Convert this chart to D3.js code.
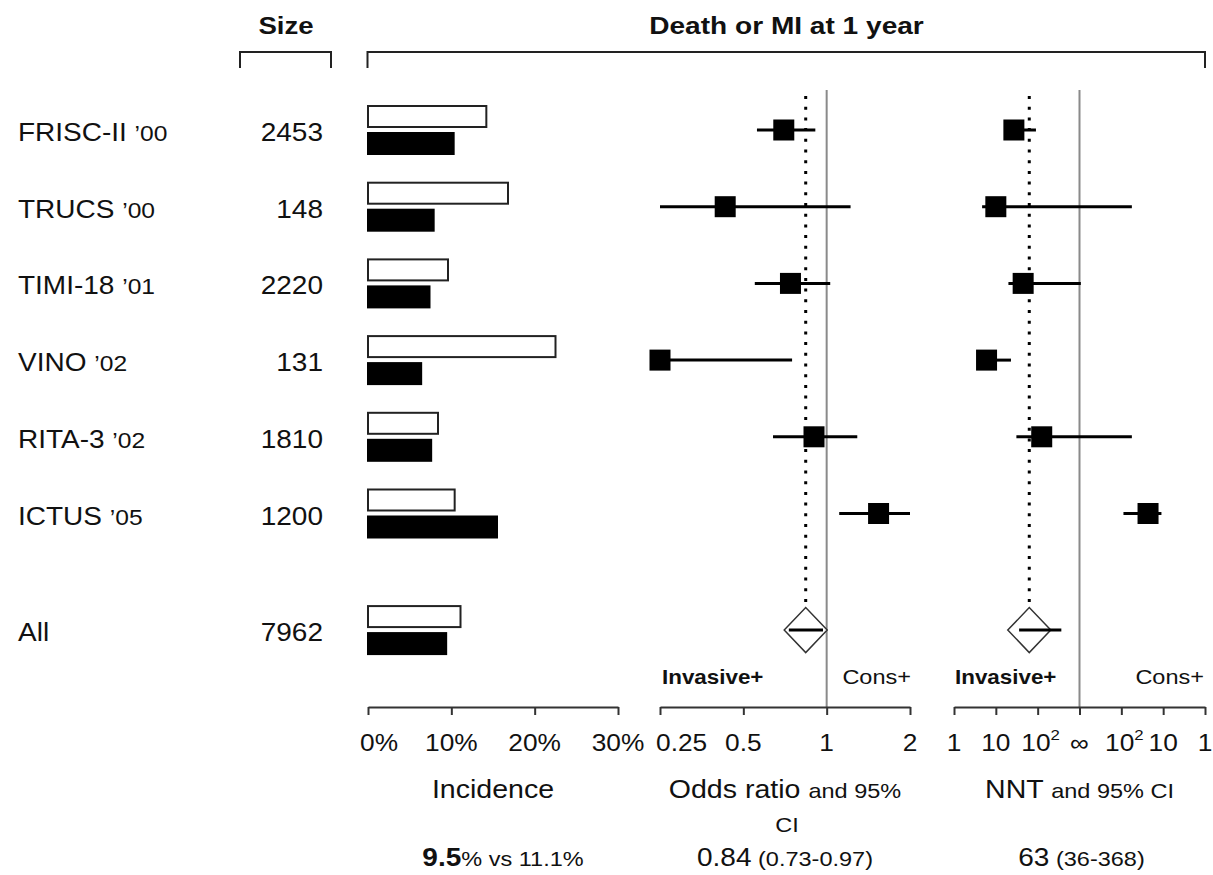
<!DOCTYPE html>
<html>
<head>
<meta charset="utf-8">
<script src="https://cdn.jsdelivr.net/npm/d3@7/dist/d3.min.js"></script>
<style>
  html, body { margin: 0; padding: 0; background: #fff; }
  svg { display: block; }
  text { fill: #111; }
</style>
</head>
<body>
<script>
// ---------------- data ----------------
const studies   = ["FRISC-II", "TRUCS", "TIMI-18", "VINO", "RITA-3", "ICTUS"];
const years     = ["\u201900", "\u201900", "\u201901", "\u201902", "\u201902", "\u201905"];
const sizes     = [2453, 148, 2220, 131, 1810, 1200];
// incidence of death or MI at 1 year (%): conservative (open bar) and invasive (filled bar)
const incCons   = [14.2, 16.8, 9.6, 22.5, 8.4, 10.4];
const incInv    = [10.4, 8.0, 7.5, 6.5, 7.7, 15.6];
// odds ratios and 95% CI
const orEst     = [0.70, 0.43, 0.74, 0.25, 0.90, 1.54];
const orLo      = [0.56, 0.24, 0.55, 0.20, 0.64, 1.11];
const orHi      = [0.91, 1.22, 1.03, 0.75, 1.29, 2.04];
// NNT and 95% CI (positive = number needed to treat, negative = number needed to harm)
const nntEst    = [27, 10, 45, 6, 125, -23];
const nntLo     = [17, 4.7, 20, 4, 31, -89];
const nntHi     = [91, -56, -930, 23, -56, -11];
// pooled
const allLabel  = "All";
const allSize   = 7962;
const allInc    = [11.1, 9.5];          // conservative, invasive
const allOR     = [0.84, 0.73, 0.97];   // estimate, lo, hi
const allNNT    = [63, 36, 368];
// axes
const incTicks  = [0, 10, 20, 30];
const orTicks   = [0.25, 0.5, 1, 2];
const nntTickU  = [-3, -2, -1, 0, 1, 2, 3];
const nntTickLabels = [["1"], ["10"], ["10", "2"], ["\u221e"], ["10", "2"], ["10"], ["1"]];

// ---------------- layout ----------------
const W = 1213, H = 875;
const SX = 1.12;  // horizontal text stretch of the original figure
const svg = d3.select("body").append("svg").attr("width", W).attr("height", H)
  .style("font-family", "'Liberation Sans', Arial, Helvetica, sans-serif");

const y = d3.scaleLinear().domain([0, 5]).range([130, 513.5]);
const ySum = y(6.52);
const axisY = 707;

const xInc = d3.scaleLinear().domain([0, 30]).range([368, 618]);
const xOR  = d3.scaleLog().base(2).domain([0.25, 2]).range([660, 910]).clamp(true);
const xU   = d3.scaleLinear().domain([-3, 3]).range([954, 1205]).clamp(true);
const nntU = n => (n === Infinity ? 0 : (n > 0 ? -(3 - Math.log10(n)) : (3 - Math.log10(-n))));
const xNNT = n => xU(nntU(n));

function T(x, yy, opts = {}) {
  const { size = 25, weight = "normal", anchor = "start", sx = SX } = opts;
  return svg.append("text")
    .attr("transform", `translate(${x},${yy}) scale(${sx},1)`)
    .attr("font-size", size).attr("font-weight", weight)
    .attr("text-anchor", anchor);
}

// ---------------- headers ----------------
T(286, 34, { size: 24, weight: "bold", anchor: "middle", sx: 1.15 }).text("Size");
T((xInc.range()[0] + xU.range()[1]) / 2, 34, { size: 24, weight: "bold", anchor: "middle", sx: 1.17 })
  .text("Death or MI at 1 year");

const bracket = (x0, x1) => svg.append("path")
  .attr("d", `M${x0},68V52H${x1}V68`).attr("fill", "none")
  .attr("stroke", "#222").attr("stroke-width", 2);
bracket(240, 331);
bracket(xInc.range()[0] - 0.5, xU.range()[1]);

// ---------------- row labels & sizes ----------------
studies.forEach((s, i) => {
  const t = T(18, y(i) + 11, { size: 25 });
  t.append("tspan").text(s + " ");
  t.append("tspan").attr("font-size", 22).text(years[i]);
  T(323, y(i) + 11, { size: 25, anchor: "end" }).text(sizes[i]);
});
T(18, ySum + 11, { size: 25 }).text(allLabel);
T(323, ySum + 11, { size: 25, anchor: "end" }).text(allSize);

// ---------------- reference lines ----------------
const refLine = x => svg.append("line").attr("x1", x).attr("x2", x).attr("y1", 90).attr("y2", axisY)
  .attr("stroke", "#8a8a8a").attr("stroke-width", 2);
refLine(xOR(1));
refLine(xU(0));

const DH = 22.5, DW = 21.5;
const dotLine = x => svg.append("line").attr("x1", x).attr("x2", x).attr("y1", 96).attr("y2", ySum - DH)
  .attr("stroke", "#000").attr("stroke-width", 3).attr("stroke-dasharray", "3,7.7");
dotLine(xOR(allOR[0]));
dotLine(xNNT(allNNT[0]));

// ---------------- incidence bars ----------------
const incRows = studies.map((s, i) => ({ yc: y(i), cons: incCons[i], inv: incInv[i] }))
  .concat([{ yc: ySum, cons: allInc[0], inv: allInc[1] }]);
svg.append("g").selectAll("rect").data(incRows).join("rect")
  .attr("x", xInc(0)).attr("y", d => d.yc - 24).attr("height", 21)
  .attr("width", d => xInc(d.cons) - xInc(0))
  .attr("fill", "#fff").attr("stroke", "#222").attr("stroke-width", 2);
svg.append("g").selectAll("rect").data(incRows).join("rect")
  .attr("x", xInc(0) - 1).attr("y", d => d.yc + 2).attr("height", 23)
  .attr("width", d => xInc(d.inv) - xInc(0) + 1)
  .attr("fill", "#000");

// ---------------- forest rows ----------------
const SQ = 21;
const orRows = studies.map((s, i) => ({ yc: y(i), est: orEst[i], lo: orLo[i], hi: orHi[i] }));
const nnRows = studies.map((s, i) => ({ yc: y(i), est: nntEst[i], lo: nntLo[i], hi: nntHi[i] }));

function forest(rows, fx) {
  const g = svg.append("g");
  g.selectAll("line").data(rows).join("line")
    .attr("x1", d => Math.min(fx(d.lo), fx(d.hi))).attr("x2", d => Math.max(fx(d.lo), fx(d.hi)))
    .attr("y1", d => d.yc).attr("y2", d => d.yc)
    .attr("stroke", "#000").attr("stroke-width", 3);
  g.selectAll("rect").data(rows).join("rect")
    .attr("x", d => fx(d.est) - SQ / 2).attr("y", d => d.yc - SQ / 2)
    .attr("width", SQ).attr("height", SQ).attr("fill", "#000");
}
forest(orRows, xOR);
forest(nnRows, xNNT);

function diamond(xc, lo, hi) {
  svg.append("path")
    .attr("d", `M${xc - DW},${ySum}L${xc},${ySum - DH}L${xc + DW},${ySum}L${xc},${ySum + DH}Z`)
    .attr("fill", "#fff").attr("stroke", "#333").attr("stroke-width", 1.5);
  svg.append("line").attr("x1", lo).attr("x2", hi).attr("y1", ySum).attr("y2", ySum)
    .attr("stroke", "#000").attr("stroke-width", 3);
}
diamond(xOR(allOR[0]), xOR(allOR[1]), xOR(allOR[2]));
diamond(xNNT(allNNT[0]), xNNT(allNNT[1]), xNNT(allNNT[2]));

// ---------------- Invasive+ / Cons+ ----------------
T(xOR.range()[0] + 2, 684, { size: 20, weight: "bold" }).text("Invasive+");
T(xOR.range()[1] + 1, 684, { size: 21, anchor: "end" }).text("Cons+");
T(xU.range()[0] + 1, 684, { size: 20, weight: "bold" }).text("Invasive+");
T(xU.range()[1] - 1, 684, { size: 21, anchor: "end" }).text("Cons+");

// ---------------- axes ----------------
function drawAxis(scale, ticks) {
  const g = svg.append("g").attr("transform", `translate(0,${axisY})`)
    .call(d3.axisBottom(scale).tickValues(ticks).tickSize(8).tickSizeOuter(0).tickFormat(""));
  g.select(".domain").attr("stroke", "#333").attr("stroke-width", 2);
  g.selectAll(".tick line").attr("stroke", "#333").attr("stroke-width", 2);
}
drawAxis(xInc, incTicks);
drawAxis(xOR, orTicks);
drawAxis(xU, nntTickU);

const tickY = 751, tickSize = 23.5;
incTicks.forEach((v, i) => {
  if (i === 0) T(xInc(v) - 8, tickY, { size: tickSize }).text(v + "%");
  else T(xInc(v), tickY, { size: tickSize, anchor: "middle" }).text(v + "%");
});
orTicks.forEach((v, i) => {
  if (i === 0) T(xOR(v) - 4, tickY, { size: tickSize }).text(String(v));
  else T(xOR(v), tickY, { size: tickSize, anchor: "middle" }).text(String(v));
});
nntTickU.forEach((u, i) => {
  const lab = nntTickLabels[i];
  const t = T(xU(u) + (lab.length > 1 ? 3 : 0), tickY, { size: tickSize, anchor: "middle" });
  t.append("tspan").text(lab[0]);
  if (lab.length > 1) t.append("tspan").attr("font-size", 15).attr("dy", -11).text(lab[1]);
});

// ---------------- axis titles ----------------
const cInc = d3.mean(xInc.range()), cOR = d3.mean(xOR.range()), cNN = d3.mean(xU.range());
T(cInc, 798, { size: 25.5, anchor: "middle" }).text("Incidence");
{
  const t = T(cOR, 798, { size: 25.5, anchor: "middle" });
  t.append("tspan").text("Odds ratio ");
  t.append("tspan").attr("font-size", 21).text("and 95%");
  T(cOR + 2, 832, { size: 21, anchor: "middle" }).text("CI");
}
{
  const t = T(cNN, 798, { size: 25.5, anchor: "middle" });
  t.append("tspan").text("NNT ");
  t.append("tspan").attr("font-size", 21).text("and 95% CI");
}

// ---------------- summary numbers ----------------
const sumY = 866;
{
  const t = T(cInc + 10, sumY, { size: 25, anchor: "middle" });
  t.append("tspan").attr("font-weight", "bold").text(allInc[1].toFixed(1));
  t.append("tspan").attr("font-size", 21).text(`% vs ${allInc[0].toFixed(1)}%`);
}
{
  const t = T(cOR, sumY, { size: 25, anchor: "middle" });
  t.append("tspan").text(allOR[0].toFixed(2));
  t.append("tspan").attr("font-size", 21).text(` (${allOR[1].toFixed(2)}-${allOR[2].toFixed(2)})`);
}
{
  const t = T(cNN + 2, sumY, { size: 25, anchor: "middle" });
  t.append("tspan").text(String(allNNT[0]));
  t.append("tspan").attr("font-size", 21).text(` (${allNNT[1]}-${allNNT[2]})`);
}
</script>
</body>
</html>
